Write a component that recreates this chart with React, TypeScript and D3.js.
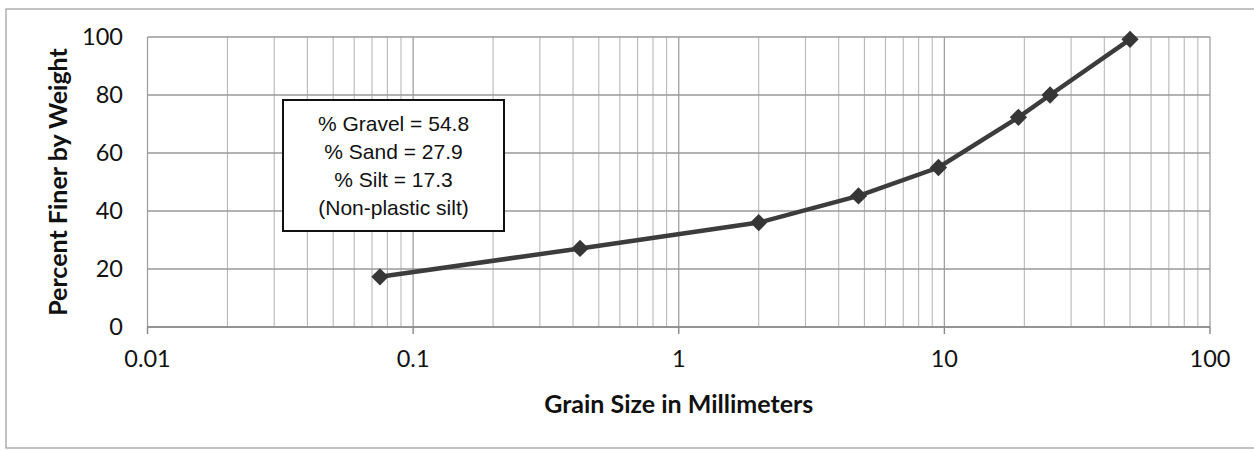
import React from 'react';
import * as d3 from 'd3';

// sieve analysis: grain size (mm) vs percent passing
const grainSizes = [0.075, 0.425, 2.0, 4.75, 9.5, 19.0, 25.0, 50.0];
const percentFiner = [17.3, 27.1, 36.0, 45.2, 55.0, 72.3, 80.0, 99.2];

const xTicks = [0.01, 0.1, 1, 10, 100];
const xTickLabels = ['0.01', '0.1', '1', '10', '100'];
const yTicks = [0, 20, 40, 60, 80, 100];

const noteLines = ['% Gravel = 54.8', '% Sand = 27.9', '% Silt = 17.3', '(Non-plastic silt)'];

const W = 1254;
const H = 450;
const tickFont = 'Lato, "Open Sans", sans-serif';
const noteFont = '"Liberation Sans", Arial, sans-serif';

function App() {
  const x = d3.scaleLog().domain([0.01, 100]).range([147.5, 1210]);
  const y = d3.scaleLinear().domain([0, 100]).range([327, 37]);

  // minor gridlines 2..9 in each decade
  const minor: number[] = [];
  for (let d = 0; d < 4; d++) {
    const base = xTicks[d];
    for (let k = 2; k <= 9; k++) minor.push(base * k);
  }

  const line = d3
    .line<number>()
    .x((_, i) => x(grainSizes[i]))
    .y((v) => y(v));

  const diamond = d3.symbol().type(d3.symbolDiamond2).size(190)();

  return (
    <svg
      width={W}
      height={H}
      style={{ position: 'absolute', left: 0, top: 0, background: '#fff' }}
    >
      {/* chart frame */}
      <rect x={6} y={9} width={1270} height={439} fill="#fff" stroke="#9a9a9a" strokeWidth={1.2} />

      {/* minor vertical grid */}
      {minor.map((m, i) => (
        <line key={'m' + i} x1={x(m)} x2={x(m)} y1={y(100)} y2={y(0)} stroke="#b8b8b8" strokeWidth={1.1} />
      ))}
      {/* decade lines */}
      {xTicks.map((t, i) => (
        <line key={'d' + i} x1={x(t)} x2={x(t)} y1={y(100)} y2={y(0)} stroke="#a0a0a0" strokeWidth={1.3} />
      ))}
      {/* horizontal grid */}
      {yTicks.map((t, i) => (
        <line key={'h' + i} x1={x(0.01)} x2={x(100)} y1={y(t)} y2={y(t)} stroke="#999" strokeWidth={1.4} />
      ))}
      {/* x axis and ticks */}
      <line x1={x(0.01)} x2={x(100)} y1={y(0)} y2={y(0)} stroke="#888" strokeWidth={1.6} />
      {xTicks.map((t, i) => (
        <line key={'xt' + i} x1={x(t)} x2={x(t)} y1={y(0)} y2={y(0) + 7} stroke="#888" strokeWidth={1.4} />
      ))}

      {/* tick labels */}
      {xTicks.map((t, i) => (
        <text key={'xl' + i} x={x(t)} y={367} textAnchor="middle" fontFamily={tickFont} fontSize={23.5} fill="#111">
          {xTickLabels[i]}
        </text>
      ))}
      {yTicks.map((t, i) => (
        <text key={'yl' + i} x={123} y={y(t)} dy="0.36em" textAnchor="end" fontFamily={tickFont} fontSize={23.5} fill="#111">
          {t}
        </text>
      ))}

      {/* axis titles */}
      <text x={x(1)} y={413} textAnchor="middle" fontFamily={tickFont} fontWeight="bold" fontSize={25} fill="#111">
        Grain Size in Millimeters
      </text>
      <text
        transform={`translate(67,${(y(0) + y(100)) / 2}) rotate(-90)`}
        textAnchor="middle"
        fontFamily={tickFont}
        fontWeight="bold"
        fontSize={25}
        fill="#111"
      >
        Percent Finer by Weight
      </text>

      {/* data */}
      <path d={line(percentFiner) || ''} fill="none" stroke="#3c3c3c" strokeWidth={4.5} />
      {percentFiner.map((v, i) => (
        <path key={'p' + i} d={diamond || ''} transform={`translate(${x(grainSizes[i])},${y(v)})`} fill="#363636" />
      ))}

      {/* annotation box */}
      <rect x={283} y={100} width={221} height={131} fill="#fff" stroke="#111" strokeWidth={2} />
      {noteLines.map((s, i) => (
        <text key={'n' + i} x={393.5} y={131 + i * 28} textAnchor="middle" fontFamily={noteFont} fontSize={21} fill="#111">
          {s}
        </text>
      ))}
    </svg>
  );
}

export default App;
